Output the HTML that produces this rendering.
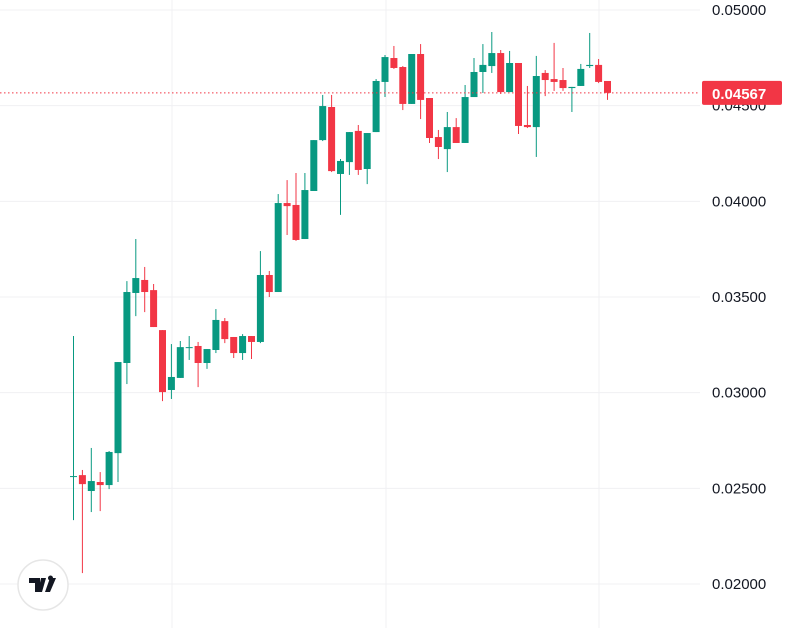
<!DOCTYPE html>
<html><head><meta charset="utf-8"><style>
html,body{margin:0;padding:0;background:#fff;width:797px;height:628px;overflow:hidden;font-family:"Liberation Sans",sans-serif}
svg{display:block}
</style></head><body>
<svg id="chart" width="797" height="628">
<g id="grid"></g>
<g id="candles"></g>
<g id="axis"></g>
<g>
<circle cx="43" cy="585" r="25" fill="#fff" stroke="#e6e6e6" stroke-width="1.5"/>
<path d="M29 578h11v14h-5v-9h-6z M41 578h5l-4 14h-4z M48 578a2.5 2.5 0 1 1 0 0.1z M50 578h6l-6 14h-5z" fill="#131722"/>
</g>
</svg>
<script>
const opens=[0.02559,0.02569,0.02486,0.02533,0.02517,0.02684,0.03155,0.03521,0.03589,0.03536,0.03327,0.03014,0.03077,0.03233,0.03244,0.03155,0.03223,0.03374,0.03291,0.03207,0.03296,0.03265,0.03615,0.03526,0.03991,0.03981,0.03803,0.04054,0.04320,0.04493,0.04143,0.04205,0.04368,0.04169,0.04362,0.04624,0.04749,0.04702,0.04509,0.04770,0.04540,0.04336,0.04273,0.04388,0.04305,0.04545,0.04676,0.04707,0.04775,0.04571,0.04723,0.04399,0.04388,0.04671,0.04639,0.04634,0.04592,0.04603,0.04707,0.04713,0.04629];
const highs=[0.03296,0.02596,0.02711,0.02585,0.02695,0.03160,0.03583,0.03803,0.03657,0.03568,0.03327,0.03254,0.03270,0.03296,0.03265,0.03228,0.03437,0.03390,0.03291,0.03306,0.03296,0.03740,0.03636,0.04038,0.04111,0.04148,0.04148,0.04320,0.04556,0.04556,0.04221,0.04362,0.04399,0.04357,0.04639,0.04765,0.04812,0.04707,0.04770,0.04822,0.04540,0.04373,0.04467,0.04435,0.04608,0.04749,0.04822,0.04885,0.04791,0.04786,0.04723,0.04603,0.04760,0.04686,0.04828,0.04697,0.04598,0.04718,0.04880,0.04744,0.04629];
const lows=[0.02334,0.02057,0.02376,0.02381,0.02496,0.02533,0.03045,0.03400,0.03421,0.03343,0.02956,0.02967,0.03077,0.03171,0.03029,0.03124,0.03207,0.03259,0.03181,0.03171,0.03176,0.03259,0.03500,0.03526,0.03824,0.03793,0.03803,0.04054,0.04315,0.04153,0.03929,0.04138,0.04138,0.04090,0.04362,0.04545,0.04692,0.04477,0.04509,0.04430,0.04305,0.04221,0.04153,0.04305,0.04305,0.04545,0.04566,0.04671,0.04561,0.04571,0.04352,0.04383,0.04232,0.04550,0.04577,0.04577,0.04467,0.04603,0.04697,0.04618,0.04530];
const closes=[0.02564,0.02522,0.02538,0.02517,0.02690,0.03160,0.03526,0.03599,0.03526,0.03343,0.03003,0.03082,0.03238,0.03238,0.03155,0.03228,0.03380,0.03280,0.03207,0.03296,0.03265,0.03615,0.03526,0.03991,0.03975,0.03798,0.04059,0.04320,0.04498,0.04158,0.04211,0.04362,0.04164,0.04357,0.04629,0.04754,0.04697,0.04509,0.04770,0.04530,0.04331,0.04284,0.04388,0.04305,0.04545,0.04676,0.04713,0.04775,0.04571,0.04723,0.04394,0.04388,0.04655,0.04634,0.04624,0.04592,0.04598,0.04692,0.04713,0.04624,0.04567];
const tickLabels=["0.05000","0.04500","0.04000","0.03500","0.03000","0.02500","0.02000"];
const tickValues=[0.05,0.045,0.04,0.035,0.03,0.025,0.02];
const lastPrice=0.04567;

const NS="http://www.w3.org/2000/svg";
const y=p=>10+(0.05-p)*19133;
const x=i=>73.5+8.9*i;
function mk(tag,attrs,parent){const e=document.createElementNS(NS,tag);for(const k in attrs)e.setAttribute(k,attrs[k]);parent.appendChild(e);return e;}
const grid=document.getElementById('grid'),cg=document.getElementById('candles'),ax=document.getElementById('axis');
[172,386,599].forEach(gx=>{const l=mk('line',{x1:gx,x2:gx,y1:0,y2:628,stroke:'#f0f0f3','stroke-width':1},grid);

});
tickValues.forEach((v,i)=>{const l=mk('line',{x1:0,x2:700,y1:y(v),y2:y(v),stroke:'#f0f0f3','stroke-width':1},grid);


const t=mk('text',{x:712,y:y(v)+5,'font-size':15,fill:'#131722'},ax);t.textContent=tickLabels[i];

});
opens.forEach((o,i)=>{const c=closes[i],up=c>=o,col=up?'#089981':'#F23645';
const g=mk('g',{},cg);


mk('line',{x1:x(i),x2:x(i),y1:y(highs[i]),y2:y(lows[i]),stroke:col,'stroke-width':1},g);
const top=y(Math.max(o,c)),bot=y(Math.min(o,c));
mk('rect',{x:x(i)-3.5,y:top,width:7,height:Math.max(1,bot-top),fill:col},g);});
const ly=y(lastPrice);
const dl=mk('line',{x1:0,x2:700,y1:ly,y2:ly,stroke:'#F23645','stroke-width':1,'stroke-dasharray':'1.5 2.5'},cg);


const lb=mk('rect',{x:702,y:ly-12,width:80,height:24,rx:2,fill:'#F23645'},ax);


const lt=mk('text',{x:712,y:ly+6,'font-size':15,'font-weight':'bold',fill:'#fff'},ax);lt.textContent=lastPrice.toFixed(5);


</script>
</body></html>
